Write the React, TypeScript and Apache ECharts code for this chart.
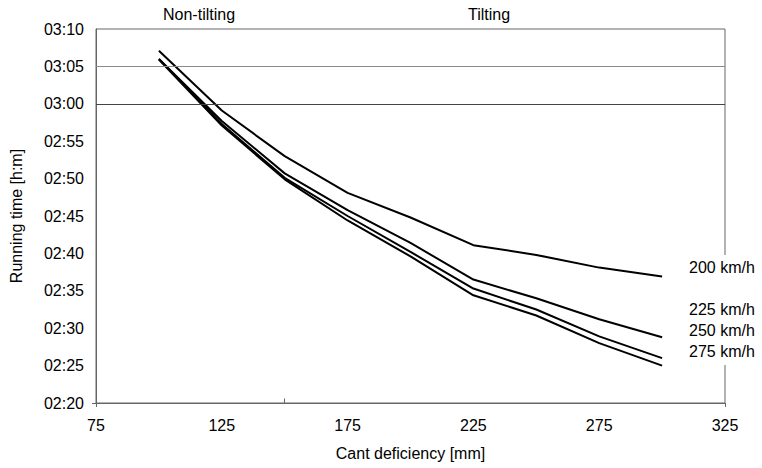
import React, { useEffect, useRef } from "react";
import * as echarts from "echarts";

const cantDeficiency = [100, 125, 150, 175, 200, 225, 250, 275, 300];
const speedLabels = ["200 km/h", "225 km/h", "250 km/h", "275 km/h"];
// running time in minutes
const time200 = [187.1, 179.1, 173.0, 168.1, 164.8, 161.1, 159.8, 158.1, 156.9];
const time225 = [186.0, 177.7, 170.7, 165.8, 161.4, 156.5, 154.0, 151.2, 148.8];
const time250 = [186.0, 177.3, 170.1, 165.0, 160.2, 155.3, 152.5, 148.9, 146.0];
const time275 = [185.9, 177.1, 169.9, 164.4, 159.6, 154.4, 151.7, 148.0, 145.0];
const gridValues = [180, 185];
const regionLabels = ["Non-tilting", "Tilting"];
const regionBoundary = 150;

const FONT = "'Liberation Sans', Arial, sans-serif";

function fmt(v: number) {
  const h = Math.floor(v / 60);
  const m = Math.round(v - h * 60);
  return String(h).padStart(2, "0") + ":" + String(m).padStart(2, "0");
}

export default function App() {
  const ref = useRef<HTMLDivElement>(null);
  useEffect(() => {
    if (!ref.current) return;
    const chart = echarts.init(ref.current, undefined, { renderer: "svg" });
    const all = [time200, time225, time250, time275];
    const series: any[] = all.map((vals, i) => ({
      type: "line",
      name: speedLabels[i],
      data: cantDeficiency.map((x, j) => [x, vals[j]]),
      showSymbol: false,
      lineStyle: { color: "#000", width: 2 },
      z: 3,
      markLine:
        i === 0
          ? {
              silent: true,
              symbol: "none",
              label: { show: false },
              lineStyle: { type: "solid", width: 1 },
              data: [
                { yAxis: gridValues[1], lineStyle: { color: "#8a8a8a" } },
                { yAxis: gridValues[0], lineStyle: { color: "#444" } },
                [
                  { coord: [regionBoundary, 140], lineStyle: { color: "#666" } },
                  { coord: [regionBoundary, 140.6] },
                ],
              ],
            }
          : undefined,
    }));
    chart.setOption({
      animation: false,
      backgroundColor: "#fff",
      grid: {
        left: 92,
        right: 37,
        top: 29,
        bottom: 65,
        show: true,
        borderColor: "#666",
        borderWidth: 1,
        backgroundColor: "transparent",
      },
      xAxis: {
        type: "value",
        min: 75,
        max: 325,
        interval: 50,
        name: "Cant deficiency [mm]",
        nameLocation: "middle",
        nameGap: 42,
        nameTextStyle: { fontFamily: FONT, fontSize: 16, color: "#000" },
        axisLine: { show: true, lineStyle: { color: "#666", width: 1 } },
        axisTick: { show: true, customValues: [75, 325], length: 4, lineStyle: { color: "#666" } },
        axisLabel: { fontFamily: FONT, fontSize: 16, color: "#000", margin: 14 },
        splitLine: { show: false },
      },
      yAxis: {
        type: "value",
        min: 140,
        max: 190,
        interval: 5,
        name: "Running time [h:m]",
        nameLocation: "middle",
        nameGap: 72,
        nameTextStyle: { fontFamily: FONT, fontSize: 16, color: "#000" },
        axisLine: { show: true, lineStyle: { color: "#666", width: 1 } },
        axisTick: { show: true, customValues: [140], length: 4, lineStyle: { color: "#666" } },
        axisLabel: { fontFamily: FONT, fontSize: 16, color: "#000", margin: 12, formatter: (v: number) => fmt(v) },
        splitLine: { show: false },
      },
      series,
      graphic: [
        { type: "text", left: 163, top: 6, style: { text: regionLabels[0], font: `16px ${FONT}`, fill: "#000" } },
        { type: "text", left: 468, top: 6, style: { text: regionLabels[1], font: `16px ${FONT}`, fill: "#000" } },
        { type: "rect", shape: { x: 683, y: 255, width: 79, height: 110 }, style: { fill: "#fff" }, z: 10 },
        { type: "text", x: 689, y: 267, style: { text: speedLabels[0], font: `16px ${FONT}`, fill: "#000", verticalAlign: "middle" }, z: 11 },
        { type: "text", x: 689, y: 309, style: { text: speedLabels[1], font: `16px ${FONT}`, fill: "#000", verticalAlign: "middle" }, z: 11 },
        { type: "text", x: 689, y: 330, style: { text: speedLabels[2], font: `16px ${FONT}`, fill: "#000", verticalAlign: "middle" }, z: 11 },
        { type: "text", x: 689, y: 351, style: { text: speedLabels[3], font: `16px ${FONT}`, fill: "#000", verticalAlign: "middle" }, z: 11 },
      ],
    });
    return () => chart.dispose();
  }, []);
  return <div ref={ref} style={{ width: 762, height: 468, position: "fixed", left: 0, top: 0 }} />;
}
